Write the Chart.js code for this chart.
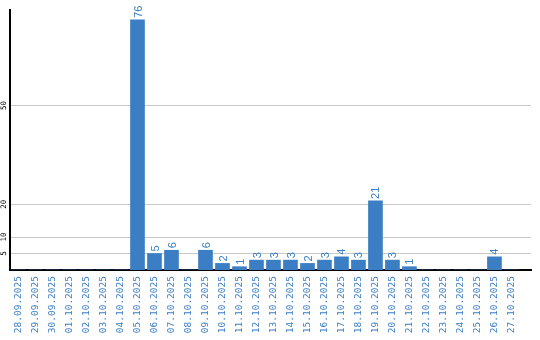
<!DOCTYPE html>
<html>
<head>
<meta charset="utf-8">
<script src="https://cdn.jsdelivr.net/npm/chart.js@4"></script>
<style>
  html, body { margin: 0; padding: 0; background: #fff; }
  #wrap { width: 540px; height: 340px; }
</style>
</head>
<body>
<div id="wrap"><canvas id="chart" width="540" height="340"></canvas></div>
<script>
const dates = [
    "28.09.2025", "29.09.2025", "30.09.2025", "01.10.2025", "02.10.2025",
    "03.10.2025", "04.10.2025", "05.10.2025", "06.10.2025", "07.10.2025",
    "08.10.2025", "09.10.2025", "10.10.2025", "11.10.2025", "12.10.2025",
    "13.10.2025", "14.10.2025", "15.10.2025", "16.10.2025", "17.10.2025",
    "18.10.2025", "19.10.2025", "20.10.2025", "21.10.2025", "22.10.2025",
    "23.10.2025", "24.10.2025", "25.10.2025", "26.10.2025", "27.10.2025"
];
const counts = [0, 0, 0, 0, 0, 0, 0, 76, 5, 6, 0, 6, 2, 1, 3, 3, 3, 2, 3, 4, 3, 21, 3, 1, 0, 0, 0, 0, 4, 0];
const yTicks = [5, 10, 20, 50];

const blue = "#3b7ec3";

// value above each bar + rotated y tick labels (chart.js won't rotate y ticks)
const extraText = {
    id: "extraText",
    afterDatasetsDraw(chart) {
        const ctx = chart.ctx;
        const meta = chart.getDatasetMeta(0);
        ctx.save();
        ctx.fillStyle = blue;
        ctx.font = "11px 'Liberation Sans', Arial, sans-serif";
        ctx.textAlign = "left";
        ctx.textBaseline = "middle";
        meta.data.forEach((bar, i) => {
            if (!counts[i]) return;
            ctx.save();
            ctx.translate(bar.x + 1, bar.y - 2);
            ctx.rotate(-Math.PI / 2);
            ctx.fillText(String(counts[i]), 0, 0);
            ctx.restore();
        });

        const y = chart.scales.y;
        ctx.fillStyle = "#000";
        ctx.font = "7.5px 'DejaVu Sans Mono', monospace";
        ctx.textAlign = "center";
        yTicks.forEach(v => {
            ctx.save();
            ctx.translate(4.5, y.getPixelForValue(v));
            ctx.rotate(-Math.PI / 2);
            ctx.fillText(String(v), 0, 0);
            ctx.restore();
        });
        ctx.restore();
    }
};

const ctx = document.getElementById("chart").getContext("2d");

let chart = new Chart(ctx, {
    type: "bar",
    data: {
        datasets: [{
            data: counts.map((v, i) => ({ x: i, y: v })),
            backgroundColor: blue,
            borderWidth: 0,
            barThickness: 14
        }]
    },
    options: {
        responsive: false,
        animation: false,
        layout: { padding: { top: 10, right: 9, bottom: 0, left: 0 } },
        plugins: {
            legend: { display: false },
            tooltip: { enabled: false }
        },
        scales: {
            x: {
                type: "linear",
                offset: false,
                min: -0.5,
                max: 30.15,
                grid: { display: false, drawTicks: false, offset: false },
                border: { color: "#000", width: 2 },
                afterBuildTicks: s => { s.ticks = dates.map((d, i) => ({ value: i })); },
                afterFit: s => {
                    s.height = 70;
                    s.paddingLeft = 0;
                    s.paddingRight = 0;
                },
                ticks: {
                    autoSkip: false,
                    minRotation: 90,
                    maxRotation: 90,
                    padding: 6,
                    color: blue,
                    font: { family: "'DejaVu Sans Mono', monospace", size: 9.5 },
                    callback: v => dates[v] || ""
                }
            },
            y: {
                min: 0,
                max: 79,
                grid: { color: "#c8c8c8", drawTicks: false },
                border: { color: "#000", width: 2 },
                afterBuildTicks: s => { s.ticks = yTicks.map(v => ({ value: v })); },
                afterFit: s => { s.width = 10; },
                ticks: { display: false }
            }
        }
    },
    plugins: [extraText]
});
</script>
</body>
</html>
